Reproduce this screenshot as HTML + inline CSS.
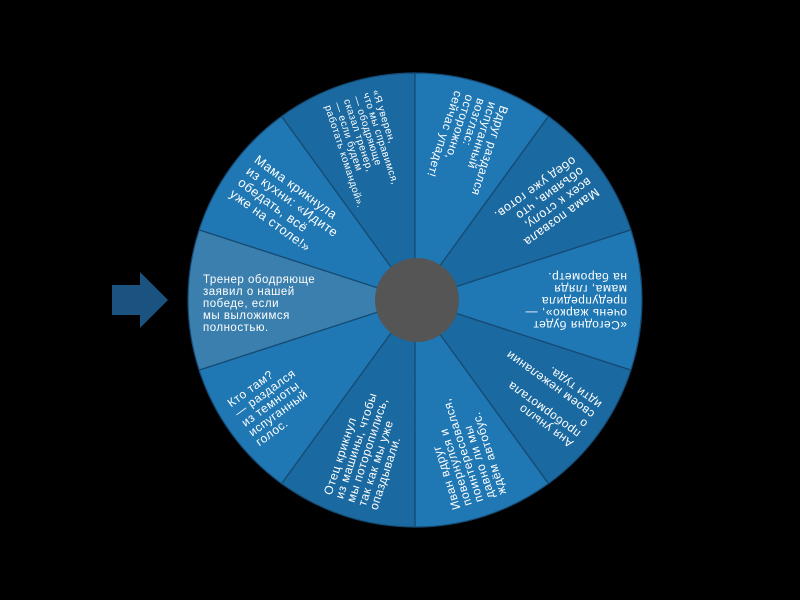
<!DOCTYPE html>
<html><head><meta charset="utf-8"><style>
html,body{margin:0;padding:0;background:#000;}
svg{display:block;}
text{font-family:"Liberation Sans",sans-serif;fill:#fff;letter-spacing:0.5px;}
</style></head><body>
<svg width="800" height="600" viewBox="0 0 800 600">
<rect width="800" height="600" fill="#000"/>
<polygon points="112,285 140,285 140,272 168,300 140,328 140,315 112,315" fill="#1a5280"/>
<defs>
<path id="w" d="M415,300 L199.1,370.1 A227,227 0 0,1 199.1,229.9 Z"/>
</defs>
<g><use href="#w" fill="#3a7fae" stroke="#154a72" stroke-width="1.2"/>
<text font-size="11.5"><tspan x="203" y="283">Тренер ободряюще</tspan><tspan x="203" y="295">заявил о нашей</tspan><tspan x="203" y="307">победе, если</tspan><tspan x="203" y="319">мы выложимся</tspan><tspan x="203" y="331">полностью.</tspan></text></g>
<g transform="rotate(36 415 300)"><use href="#w" fill="#1f77b4" stroke="#154a72" stroke-width="1.2"/>
<text font-size="13"><tspan x="203" y="283">Мама крикнула</tspan><tspan x="203" y="297">из кухни: «Идите</tspan><tspan x="203" y="311">обедать, всё</tspan><tspan x="203" y="325">уже на столе!»</tspan></text></g>
<g transform="rotate(72 415 300)"><use href="#w" fill="#1a69a0" stroke="#154a72" stroke-width="1.2"/>
<text font-size="10"><tspan x="203" y="276">«Я уверен,</tspan><tspan x="203" y="286">что мы справимся,</tspan><tspan x="203" y="296">— ободряюще</tspan><tspan x="203" y="306">сказал тренер,</tspan><tspan x="203" y="316">— если будем</tspan><tspan x="203" y="326">работать командой».</tspan></text></g>
<g transform="rotate(108 415 300)"><use href="#w" fill="#1f77b4" stroke="#154a72" stroke-width="1.2"/>
<text font-size="12"><tspan x="203" y="279">Вдруг раздался</tspan><tspan x="203" y="291">испуганный</tspan><tspan x="203" y="303">возглас:</tspan><tspan x="203" y="315">осторожно,</tspan><tspan x="203" y="327">сейчас упадет!</tspan></text></g>
<g transform="rotate(144 415 300)"><use href="#w" fill="#1a69a0" stroke="#154a72" stroke-width="1.2"/>
<text font-size="12.5"><tspan x="203" y="285">Мама позвала</tspan><tspan x="203" y="298">всех к столу,</tspan><tspan x="203" y="311">объявив, что</tspan><tspan x="203" y="324">обед уже готов.</tspan></text></g>
<g transform="rotate(180 415 300)"><use href="#w" fill="#1f77b4" stroke="#154a72" stroke-width="1.2"/>
<text font-size="12"><tspan x="203" y="279">«Сегодня будет</tspan><tspan x="203" y="291">очень жарко», —</tspan><tspan x="203" y="303">предупредила</tspan><tspan x="203" y="315">мама, глядя</tspan><tspan x="203" y="327">на барометр.</tspan></text></g>
<g transform="rotate(216 415 300)"><use href="#w" fill="#1a69a0" stroke="#154a72" stroke-width="1.2"/>
<text font-size="12"><tspan x="203" y="279">Аня уныло</tspan><tspan x="203" y="291">пробормотала</tspan><tspan x="203" y="303">о</tspan><tspan x="203" y="315">своем нежелании</tspan><tspan x="203" y="327">идти туда.</tspan></text></g>
<g transform="rotate(252 415 300)"><use href="#w" fill="#1f77b4" stroke="#154a72" stroke-width="1.2"/>
<text font-size="12"><tspan x="203" y="279">Иван вдруг</tspan><tspan x="203" y="291">повернулся и</tspan><tspan x="203" y="303">поинтересовался,</tspan><tspan x="203" y="315">давно ли мы</tspan><tspan x="203" y="327">ждём автобус.</tspan></text></g>
<g transform="rotate(288 415 300)"><use href="#w" fill="#1a69a0" stroke="#154a72" stroke-width="1.2"/>
<text font-size="12"><tspan x="203" y="281">Отец крикнул</tspan><tspan x="203" y="293">из машины, чтобы</tspan><tspan x="203" y="305">мы поторопились,</tspan><tspan x="203" y="317">так как мы уже</tspan><tspan x="203" y="329">опаздывали.</tspan></text></g>
<g transform="rotate(324 415 300)"><use href="#w" fill="#1f77b4" stroke="#154a72" stroke-width="1.2"/>
<text font-size="12"><tspan x="203" y="279">Кто там?</tspan><tspan x="203" y="291">— раздался</tspan><tspan x="203" y="303">из темноты</tspan><tspan x="203" y="315">испуганный</tspan><tspan x="203" y="327">голос.</tspan></text></g>
<circle cx="417" cy="300" r="42" fill="#555555"/>
</svg>
</body></html>
